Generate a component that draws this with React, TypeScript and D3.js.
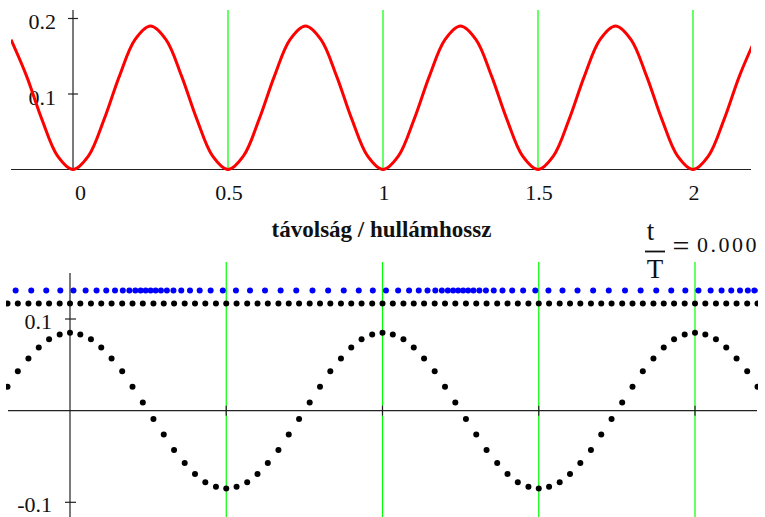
import React from 'react';
import * as d3 from 'd3';

// top plot: energy-like curve vs distance / wavelength
const redX = [
  -0.2, -0.15, -0.1, -0.05, 0, 0.05, 0.1, 0.15, 0.2, 0.25,
  0.3, 0.35, 0.4, 0.45, 0.5, 0.55, 0.6, 0.65, 0.7, 0.75,
  0.8, 0.85, 0.9, 0.95, 1, 1.05, 1.1, 1.15, 1.2, 1.25,
  1.3, 1.35, 1.4, 1.45, 1.5, 1.55, 1.6, 1.65, 1.7, 1.75,
  1.8, 1.85, 1.9, 1.95, 2, 2.05, 2.1, 2.15, 2.2,
];
const redY = [
  0.172, 0.124, 0.066, 0.018, 0, 0.018, 0.066, 0.124, 0.172, 0.19,
  0.172, 0.124, 0.066, 0.018, 0, 0.018, 0.066, 0.124, 0.172, 0.19,
  0.172, 0.124, 0.066, 0.018, 0, 0.018, 0.066, 0.124, 0.172, 0.19,
  0.172, 0.124, 0.066, 0.018, 0, 0.018, 0.066, 0.124, 0.172, 0.19,
  0.172, 0.124, 0.066, 0.018, 0, 0.018, 0.066, 0.124, 0.172,
];

// bottom plot: particle rest positions, displacement, displaced positions
const particleX = [
  -0.2, -0.167, -0.133, -0.1, -0.067, -0.033,
  0, 0.033, 0.067, 0.1, 0.133, 0.167, 0.2, 0.233, 0.267, 0.3,
  0.333, 0.367, 0.4, 0.433, 0.467, 0.5, 0.533, 0.567, 0.6, 0.633,
  0.667, 0.7, 0.733, 0.767, 0.8, 0.833, 0.867, 0.9, 0.933, 0.967,
  1, 1.033, 1.067, 1.1, 1.133, 1.167, 1.2, 1.233, 1.267, 1.3,
  1.333, 1.367, 1.4, 1.433, 1.467, 1.5, 1.533, 1.567, 1.6, 1.633,
  1.667, 1.7, 1.733, 1.767, 1.8, 1.833, 1.867, 1.9, 1.933, 1.967,
  2, 2.033, 2.067, 2.1, 2.133, 2.167, 2.2,
];
const displacement = [
  0.026, 0.043, 0.057, 0.069, 0.078, 0.083,
  0.085, 0.083, 0.078, 0.069, 0.057, 0.043, 0.026, 0.009, -0.009, -0.026,
  -0.043, -0.057, -0.069, -0.078, -0.083, -0.085, -0.083, -0.078, -0.069, -0.057,
  -0.043, -0.026, -0.009, 0.009, 0.026, 0.043, 0.057, 0.069, 0.078, 0.083,
  0.085, 0.083, 0.078, 0.069, 0.057, 0.043, 0.026, 0.009, -0.009, -0.026,
  -0.043, -0.057, -0.069, -0.078, -0.083, -0.085, -0.083, -0.078, -0.069, -0.057,
  -0.043, -0.026, -0.009, 0.009, 0.026, 0.043, 0.057, 0.069, 0.078, 0.083,
  0.085, 0.083, 0.078, 0.069, 0.057, 0.043, 0.026,
];
const blueX = [
  -0.174, -0.124, -0.076, -0.031, 0.011, 0.05,
  0.085, 0.116, 0.144, 0.169, 0.19, 0.209, 0.226, 0.242, 0.258, 0.274,
  0.291, 0.31, 0.331, 0.356, 0.384, 0.415, 0.45, 0.489, 0.531, 0.576,
  0.624, 0.674, 0.724, 0.776, 0.826, 0.876, 0.924, 0.969, 1.011, 1.05,
  1.085, 1.116, 1.144, 1.169, 1.19, 1.209, 1.226, 1.242, 1.258, 1.274,
  1.291, 1.31, 1.331, 1.356, 1.384, 1.415, 1.45, 1.489, 1.531, 1.576,
  1.624, 1.674, 1.724, 1.776, 1.826, 1.876, 1.924, 1.969, 2.011, 2.05,
  2.085, 2.116, 2.144, 2.169, 2.19, 2.209, 2.226,
];
const restRowY = 0.117;
const blueRowY = 0.131;

const topXTicks = [0, 0.5, 1, 1.5, 2];
const topXLabels = ['0', '0.5', '1', '1.5', '2'];
const topYTicks = [0.1, 0.2];
const topYLabels = ['0.1', '0.2'];
const botYTicks = [0.1, -0.1];
const botYLabels = ['0.1', '-0.1'];
const markerX = [0.5, 1, 1.5, 2];

const W = 765;
const H = 517;
const font = "'Liberation Serif', 'Times New Roman', serif";

export default function App() {
  // top plot scales
  const xTop = d3.scaleLinear().domain([0, 2]).range([73, 693]);
  const yTop = d3.scaleLinear().domain([0, 0.2]).range([169.5, 18.5]);
  // bottom plot scales
  const xBot = d3.scaleLinear().domain([0, 2]).range([70, 695]);
  const yBot = d3.scaleLinear().domain([-0.1, 0.1]).range([502.3, 319]);

  const redLine = d3
    .line<number>()
    .x((d, i) => xTop(redX[i]))
    .y((d) => yTop(d))
    .curve(d3.curveCatmullRom);

  const textCol = '#111';
  const dotR = 3;

  return (
    <svg
      width={W}
      height={H}
      style={{ position: 'absolute', left: 0, top: 0, background: '#fff', fontFamily: font }}
    >
      <defs>
        <clipPath id="clipTop">
          <rect x={11} y={0} width={740} height={175} />
        </clipPath>
        <clipPath id="clipBot">
          <rect x={6} y={260} width={752} height={257} />
        </clipPath>
      </defs>

      {/* ---------- top plot ---------- */}
      <line x1={11} x2={751} y1={yTop(0)} y2={yTop(0)} stroke="#222" strokeWidth={1.2} />
      <line x1={xTop(0)} x2={xTop(0)} y1={10} y2={yTop(0)} stroke="#222" strokeWidth={1.2} />
      {topYTicks.map((t, i) => (
        <g key={t}>
          <line x1={xTop(0) - 5} x2={xTop(0) + 5} y1={yTop(t)} y2={yTop(t)} stroke="#222" strokeWidth={1.2} />
          <text x={56} y={yTop(t) + 10.5} textAnchor="end" fontSize={22} fill={textCol}>
            {topYLabels[i]}
          </text>
        </g>
      ))}
      {markerX.map((m) => (
        <line key={m} x1={xTop(m)} x2={xTop(m)} y1={10} y2={yTop(0)} stroke="#00ff00" strokeWidth={1.2} />
      ))}
      <path
        d={redLine(redY) || ''}
        fill="none"
        stroke="#ff0000"
        strokeWidth={3}
        clipPath="url(#clipTop)"
      />
      {topXTicks.map((t, i) => (
        <text
          key={t}
          x={xTop(t) + (i === 0 ? 7.5 : 1)}
          y={200}
          textAnchor="middle"
          fontSize={22}
          fill={textCol}
        >
          {topXLabels[i]}
        </text>
      ))}
      <text x={381.5} y={236.5} textAnchor="middle" fontSize={23} fontWeight="bold" fill={textCol}>
        távolság / hullámhossz
      </text>

      {/* t/T = 0.000 */}
      <text x={650.5} y={240} textAnchor="middle" fontSize={27} fill={textCol}>t</text>
      <line x1={645} x2={665} y1={251.5} y2={251.5} stroke={textCol} strokeWidth={1.8} />
      <text x={655} y={278} textAnchor="middle" fontSize={27} fill={textCol}>T</text>
      <text x={672.5} y={256} fontSize={30} fill={textCol}>=</text>
      <text x={697} y={252} fontSize={22} letterSpacing={2.5} fill={textCol}>0.000</text>

      {/* ---------- bottom plot ---------- */}
      {markerX.map((m) => (
        <line key={m} x1={xBot(m)} x2={xBot(m)} y1={262} y2={H} stroke="#00ff00" strokeWidth={1.2} />
      ))}
      <line x1={8} x2={757} y1={yBot(0)} y2={yBot(0)} stroke="#222" strokeWidth={1.2} />
      <line x1={xBot(0)} x2={xBot(0)} y1={273} y2={H} stroke="#222" strokeWidth={1.2} />
      {markerX.map((m) => (
        <line key={m} x1={xBot(m)} x2={xBot(m)} y1={yBot(0) - 5} y2={yBot(0) + 5} stroke="#222" strokeWidth={1.2} />
      ))}
      {botYTicks.map((t, i) => (
        <g key={t}>
          <line x1={xBot(0) - 5} x2={xBot(0) + 6} y1={yBot(t)} y2={yBot(t)} stroke="#222" strokeWidth={1.2} />
          <text x={52} y={yBot(t) + 9.5} textAnchor="end" fontSize={22} fill={textCol}>
            {botYLabels[i]}
          </text>
        </g>
      ))}

      <g clipPath="url(#clipBot)">
        {blueX.map((x, i) => (
          <circle key={'b' + i} cx={xBot(x)} cy={yBot(blueRowY)} r={dotR} fill="#0000ff" />
        ))}
        {particleX.map((x, i) => (
          <circle key={'r' + i} cx={xBot(x)} cy={yBot(restRowY)} r={dotR} fill="#000" />
        ))}
        {particleX.map((x, i) => (
          <circle key={'w' + i} cx={xBot(x)} cy={yBot(displacement[i])} r={dotR} fill="#000" />
        ))}
      </g>
    </svg>
  );
}
